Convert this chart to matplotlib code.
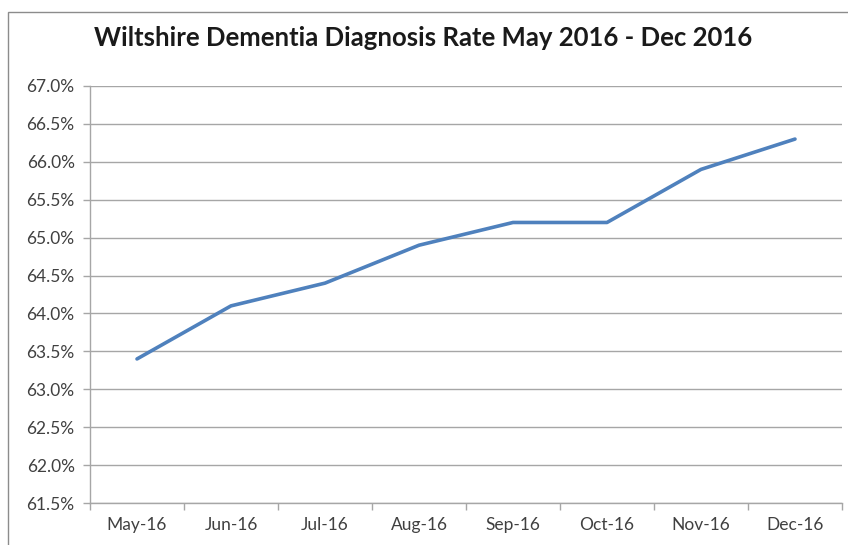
import matplotlib

matplotlib.use("Agg")
import matplotlib.pyplot as plt
from matplotlib.patches import Rectangle
from matplotlib.ticker import FixedLocator, FuncFormatter

months = ["May-16", "Jun-16", "Jul-16", "Aug-16", "Sep-16", "Oct-16", "Nov-16", "Dec-16"]
rate = [63.4, 64.1, 64.4, 64.9, 65.2, 65.2, 65.9, 66.3]
y_ticks = [61.5, 62.0, 62.5, 63.0, 63.5, 64.0, 64.5, 65.0, 65.5, 66.0, 66.5, 67.0]

plt.rcParams["font.family"] = ["Lato", "DejaVu Sans"]
GRID = "#a6a6a6"

fig = plt.figure(figsize=(8.48, 5.45), dpi=100)
# outer chart frame (right/bottom edges fall off the crop in the original)
fig.patches.append(Rectangle((8 / 848, -0.1), 1.2, 1 - 12 / 545 + 0.1,
                             transform=fig.transFigure, fill=False,
                             edgecolor="#8c8c8c", linewidth=1.0))

ax = fig.add_axes([90 / 848, 1 - 503 / 545, 752 / 848, 417 / 545])
x = list(range(len(months)))
ax.plot(x, rate, color="#4f81bd", linewidth=2.6, solid_capstyle="round")

ax.set_xlim(-0.5, len(months) - 0.5)
ax.set_ylim(y_ticks[0], y_ticks[-1])
ax.set_yticks(y_ticks)
ax.yaxis.set_major_formatter(FuncFormatter(lambda v, _: f"{v:.1f}%"))
ax.grid(True, axis="y", color=GRID, linewidth=1.0)
ax.set_axisbelow(True)

# category labels centered, tick marks between categories (Excel style)
ax.set_xticks(x)
ax.set_xticklabels(months)
ax.xaxis.set_minor_locator(FixedLocator([i - 0.5 for i in range(len(months) + 1)]))
ax.tick_params(axis="x", which="major", length=0, pad=10, labelsize=12.5, labelcolor="#404040")
ax.tick_params(axis="x", which="minor", length=5, color=GRID, width=1.0)
ax.tick_params(axis="y", length=5, color=GRID, width=1.0, pad=6, labelsize=12.5, labelcolor="#404040")

for side in ("top", "right"):
    ax.spines[side].set_visible(False)
for side in ("left", "bottom"):
    ax.spines[side].set_color(GRID)
    ax.spines[side].set_linewidth(1.0)

fig.text(423 / 848, 1 - 38 / 545, "Wiltshire Dementia Diagnosis Rate May 2016 - Dec 2016",
         ha="center", va="center", fontsize=18.5, fontweight="bold", color="#1a1a1a")

fig.savefig("out.png", dpi=100)
plt.close(fig)
